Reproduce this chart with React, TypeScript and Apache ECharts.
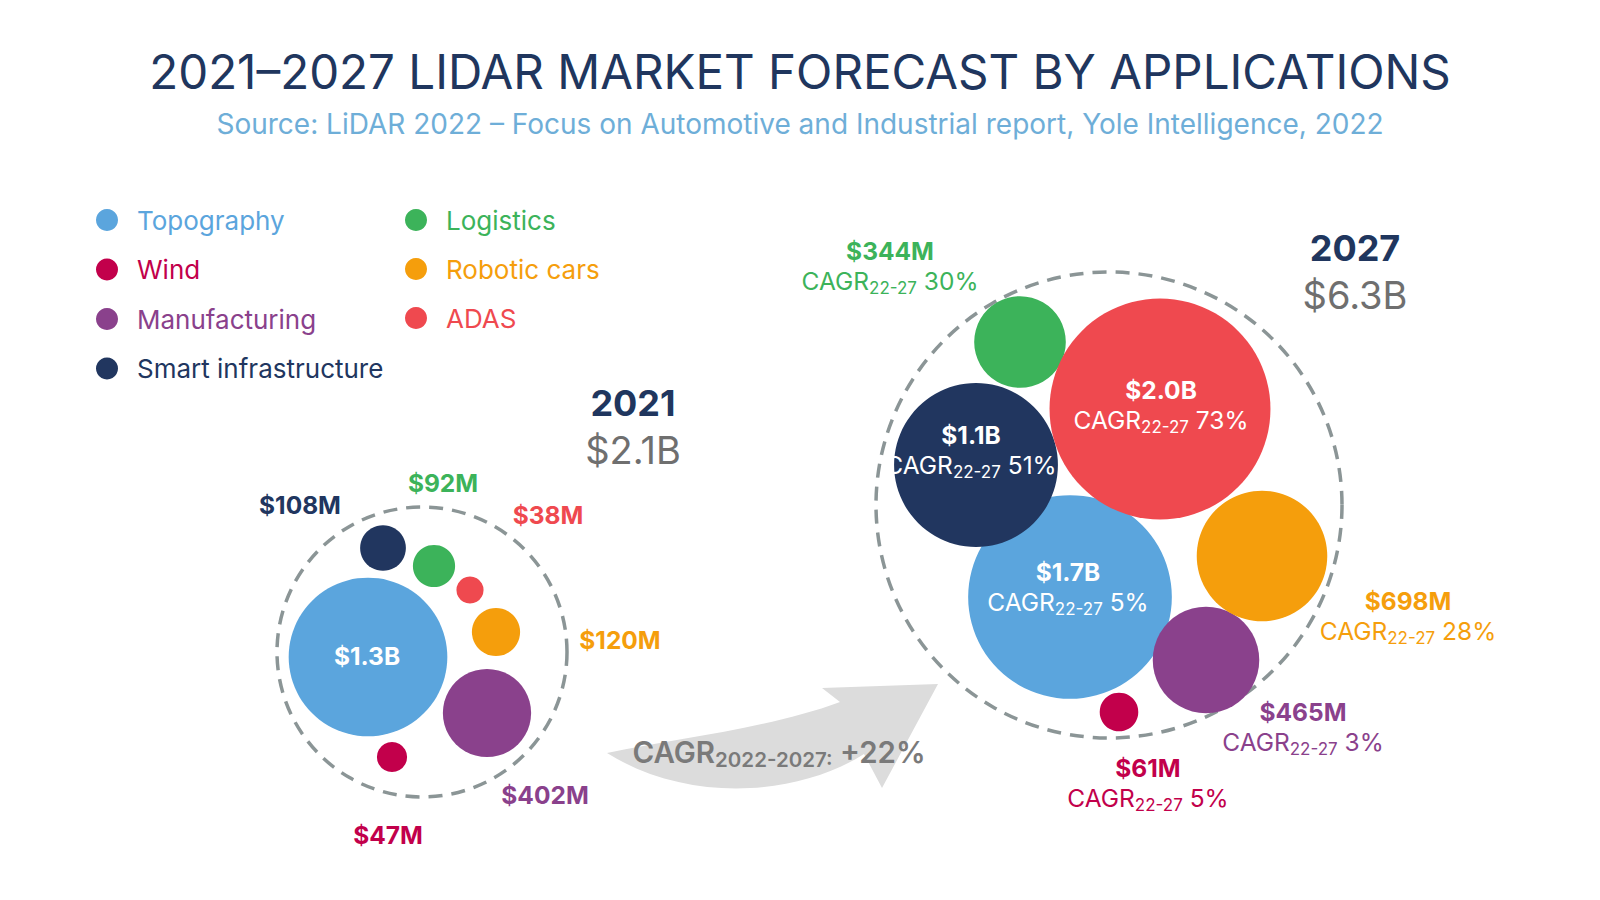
import React, { useEffect, useRef } from "react";
import * as echarts from "echarts";

// ---------- data (values in $M unless noted) ----------
const categories = ["Topography", "Wind", "Manufacturing", "Smart infrastructure", "Logistics", "Robotic cars", "ADAS"];
const years = ["2021", "2027"];
const revenue2021 = [1300, 47, 402, 108, 92, 120, 38];
const revenue2027 = [1700, 61, 465, 1100, 344, 698, 2000];
const cagr2022to2027 = [5, 5, 3, 51, 30, 28, 73];
const marketTotalB = [2.1, 6.3];
const marketCagr = 22;
const cagrShortPeriod = "22-27";
const cagrLongPeriod = "2022-2027";

const TITLE = "2021\u20132027 LIDAR MARKET FORECAST BY APPLICATIONS";
const SUBTITLE = "Source: LiDAR 2022 \u2013 Focus on Automotive and Industrial report, Yole Intelligence, 2022";

// ---------- layout & style ----------
const FONT = "Inter, 'Noto Sans', sans-serif";
const colors = ["#5ba5dd", "#c2004b", "#8a418c", "#21365f", "#3cb35a", "#f59e0c", "#ef494f"];
const NAVY = "#20365e";
const GREY = "#6f6f6f";

// bubble centres in page pixels, per category, for each year panel
const bubbleXY2021 = [[368, 657], [392, 757], [487, 713], [383, 548], [434, 566], [496, 632], [470, 590]];
const bubbleXY2027 = [[1070, 597], [1119, 712], [1206, 660], [976, 465], [1020, 342], [1262, 556], [1160, 409]];
// label anchors (centre of the label block)
const labelXY2021 = [[367, 656], [388, 835], [545, 795], [300, 505], [443, 483], [620, 640], [548, 515]];
const labelXY2027 = [[1068, 587], [1148, 783], [1303, 727], [971, 450], [890, 266], [1408, 616], [1161, 405]];
const labelInside2021 = [true, false, false, false, false, false, false];
const labelInside2027 = [true, false, false, true, false, false, true];
// radius = k * sqrt(value) for each panel
const sizeScale = [2.2, 2.47];
// dashed enclosure per panel
const enclosureXY = [[422, 652], [1109, 505]];
const enclosureDiameter = [290, 466];

const ARROW_D =
  "M607,753 C680,738 770,728 840,702 L822,688 L938,684 L882,788 L864,754 C800,795 690,805 607,753 Z";

let arrowRegistered = false;
function registerArrow() {
  if (arrowRegistered) return;
  echarts.graphic.registerShape("cagrArrow", echarts.graphic.extendPath(ARROW_D, {}));
  arrowRegistered = true;
}

function money(v: number) {
  return v >= 1000 ? `$${(v / 1000).toFixed(1)}B` : `$${v}M`;
}

const rich = (color: string) => ({
  v: { fontFamily: FONT, fontSize: 24.5, fontWeight: 700, lineHeight: 30, color },
  c: { fontFamily: FONT, fontSize: 24.5, fontWeight: 400, lineHeight: 30, color },
  s: { fontFamily: FONT, fontSize: 17, fontWeight: 400, lineHeight: 17, verticalAlign: "bottom", color },
});

function buildOption() {
  const panels = [
    { values: revenue2021, xy: bubbleXY2021, lab: labelXY2021, inside: labelInside2021 },
    { values: revenue2027, xy: bubbleXY2027, lab: labelXY2027, inside: labelInside2027 },
  ];

  const bubbleSeries = categories.map((name, ci) => ({
    type: "scatter",
    name,
    symbol: "circle",
    symbolSize: (val: number[], p: any) => 2 * sizeScale[p.dataIndex] * Math.sqrt(val[2]),
    itemStyle: { color: colors[ci], opacity: 1 },
    emphasis: { disabled: true },
    silent: true,
    data: panels.map((pn, yi) => {
      const [x, y] = pn.xy[ci];
      const [lx, ly] = pn.lab[ci];
      const color = pn.inside[ci] ? "#ffffff" : colors[ci];
      return {
        value: [x, y, pn.values[ci]],
        label: {
          show: true,
          position: "inside",
          offset: [lx - x, ly - y],
          align: "center",
          verticalAlign: "middle",
          formatter: () => {
            const head = `{v|${money(pn.values[ci])}}`;
            if (yi === 0) return head;
            return `${head}\n{c|CAGR}{s|${cagrShortPeriod}}{c| ${cagr2022to2027[ci]}%}`;
          },
          rich: rich(color),
        },
      };
    }),
  }));

  const enclosure = {
    type: "scatter",
    name: "market",
    silent: true,
    z: 1,
    symbol: "circle",
    symbolSize: (_v: number[], p: any) => enclosureDiameter[p.dataIndex],
    itemStyle: {
      color: "rgba(0,0,0,0)",
      borderColor: "#8b9596",
      borderWidth: 3.5,
      borderType: [14, 9],
      opacity: 1,
    },
    data: enclosureXY.map(([x, y], i) => [x, y, marketTotalB[i]]),
  };

  const legendText = { fontFamily: FONT, fontSize: 26, lineHeight: 26, padding: [0, 0, 0, 14] };
  const legendItems = (idx: number[]) =>
    idx.map((i) => ({ name: categories[i], textStyle: { color: colors[i] } }));

  const headerXY = [[633, 403], [1355, 248]];

  const graphic: any[] = [
    { type: "cagrArrow", x: 0, y: 0, scaleX: 1, scaleY: 1, z: 0, style: { fill: "#dcdcdc" } },
    {
      type: "text", x: 800, y: 71, z: 10,
      style: {
        text: TITLE, fill: NAVY, fontFamily: FONT, fontSize: 47.5, fontWeight: 400,
        textAlign: "center", textVerticalAlign: "middle", align: "center", verticalAlign: "middle",
      },
    },
    {
      type: "text", x: 800, y: 124, z: 10,
      style: {
        text: SUBTITLE, fill: "#6eaed8", fontFamily: FONT, fontSize: 28, fontWeight: 400,
        textAlign: "center", textVerticalAlign: "middle", align: "center", verticalAlign: "middle",
      },
    },
    {
      type: "text", x: 779, y: 752, z: 10,
      style: {
        text: `{c|CAGR}{s|${cagrLongPeriod}:}{c| +${marketCagr}%}`,
        textAlign: "center", textVerticalAlign: "middle", align: "center", verticalAlign: "middle",
        rich: {
          c: { fontFamily: FONT, fontSize: 29.5, fontWeight: 600, lineHeight: 36, fill: "#7a7a7a", color: "#7a7a7a" },
          s: { fontFamily: FONT, fontSize: 20.5, fontWeight: 600, lineHeight: 20, verticalAlign: "bottom", fill: "#7a7a7a", color: "#7a7a7a" },
        },
      },
    },
  ];
  years.forEach((yr, i) => {
    const [x, y] = headerXY[i];
    graphic.push({
      type: "text", x, y, z: 10,
      style: {
        text: yr, fill: NAVY, fontFamily: FONT, fontSize: 36, fontWeight: 700,
        textAlign: "center", textVerticalAlign: "middle", align: "center", verticalAlign: "middle",
      },
    });
    graphic.push({
      type: "text", x, y: y + 47, z: 10,
      style: {
        text: `$${marketTotalB[i].toFixed(1)}B`, fill: GREY, fontFamily: FONT, fontSize: 38, fontWeight: 400,
        textAlign: "center", textVerticalAlign: "middle", align: "center", verticalAlign: "middle",
      },
    });
  });

  return {
    animation: false,
    backgroundColor: "#ffffff",
    grid: { left: 0, right: 0, top: 0, bottom: 0 },
    xAxis: { type: "value", min: 0, max: 1600, show: false },
    yAxis: { type: "value", min: 0, max: 900, inverse: true, show: false },
    legend: [
      {
        orient: "vertical", left: 91, top: 202, icon: "circle", itemWidth: 22, itemHeight: 22,
        itemGap: 23.5, selectedMode: false, textStyle: legendText, data: legendItems([0, 1, 2, 3]),
      },
      {
        orient: "vertical", left: 400, top: 202, icon: "circle", itemWidth: 22, itemHeight: 22,
        itemGap: 23, selectedMode: false, textStyle: legendText, data: legendItems([4, 5, 6]),
      },
    ],
    graphic,
    series: [enclosure, ...bubbleSeries],
  };
}

export default function App() {
  const ref = useRef<HTMLDivElement>(null);
  useEffect(() => {
    if (!ref.current) return;
    registerArrow();
    const chart = echarts.init(ref.current, undefined, { renderer: "svg" });
    chart.setOption(buildOption() as any);
    return () => chart.dispose();
  }, []);
  return (
    <div
      ref={ref}
      style={{ position: "absolute", left: 0, top: 0, width: 1600, height: 900, background: "#fff" }}
    />
  );
}
